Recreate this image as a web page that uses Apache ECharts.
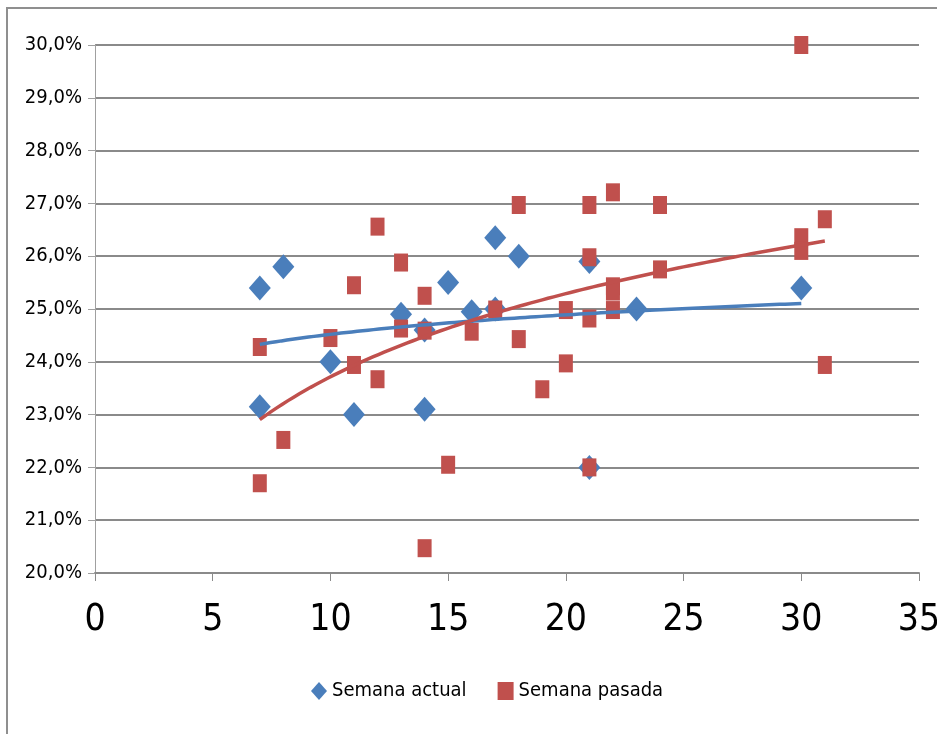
<!DOCTYPE html>
<html>
<head>
<meta charset="utf-8">
<script src="https://cdn.jsdelivr.net/npm/echarts@6/dist/echarts.min.js"></script>
<style>
  html, body { margin: 0; padding: 0; background: #fff; }
  #chart { width: 937px; height: 734px; }
</style>
</head>
<body>
<div id="chart"></div>
<script>
  // Semana actual (x = day, y = percent)
  const actualX = [7, 7, 8, 10, 11, 13, 14, 14, 15, 16, 17, 17, 18, 21, 21, 23, 30]
  const actualY = [25.4, 23.15, 25.8, 24.0, 23.0, 24.9, 24.6, 23.1, 25.5, 24.95, 26.35, 25.0, 26.0, 25.9, 22.0, 25.0, 25.4]

  // Semana pasada
  const pasadaX = [7, 7, 8, 10, 11, 11, 12, 12, 13, 13, 14, 14, 14, 15, 16, 17, 18, 18, 19, 20, 20,
    21, 21, 21, 21, 22, 22, 22, 22, 24, 24, 30, 30, 30, 31, 31]
  const pasadaY = [24.28, 21.7, 22.52, 24.45, 25.45, 23.94, 26.56, 23.67, 25.88, 24.63, 25.25, 24.59, 20.47, 22.05, 24.57, 24.99, 26.97, 24.43, 23.48, 24.98, 23.97,
    26.97, 25.98, 24.82, 22.0, 27.21, 25.43, 25.33, 24.98, 26.97, 25.75, 30.0, 26.36, 26.1, 26.7, 23.94]

  const xTicks = [0, 5, 10, 15, 20, 25, 30, 35]
  const yTicks = [20, 21, 22, 23, 24, 25, 26, 27, 28, 29, 30]
  const seriesNames = ['Semana actual', 'Semana pasada']

  const blue = '#4a7ebb'
  const red = '#c0504d'
  const gridGrey = '#8a8a8a'
  const font = '"Liberation Sans Narrow", "DejaVu Sans Condensed", sans-serif'

  function pairs(xs, ys) {
    return xs.map((x, i) => [x, ys[i]])
  }

  // logarithmic least-squares trendline, like the spreadsheet's
  function logTrend(xs, ys) {
    const lx = xs.map((x) => Math.log(x))
    const n = xs.length
    const mx = lx.reduce((a, b) => a + b, 0) / n
    const my = ys.reduce((a, b) => a + b, 0) / n
    let sxy = 0
    let sxx = 0
    lx.forEach((v, i) => {
      sxy += (v - mx) * (ys[i] - my)
      sxx += (v - mx) * (v - mx)
    })
    const a = sxy / sxx
    const b = my - a * mx
    const lo = Math.min(...xs)
    const hi = Math.max(...xs)
    const pts = []
    for (let k = 0; k <= 100; k++) {
      const x = lo + ((hi - lo) * k) / 100
      pts.push([x, a * Math.log(x) + b])
    }
    return pts
  }

  const chart = echarts.init(document.getElementById('chart'))
  chart.setOption({
    animation: false,
    graphic: [
      {
        type: 'rect',
        shape: { x: 7, y: 8, width: 1000, height: 800 },
        style: { fill: 'none', stroke: '#8f8f8f', lineWidth: 2 },
        silent: true,
      },
    ],
    grid: { left: 95, right: 18, top: 45, bottom: 161, outerBoundsMode: 'none', containLabel: false },
    legend: {
      data: seriesNames,
      left: 306,
      top: 676,
      itemWidth: 16,
      itemHeight: 18,
      itemGap: 31,
      textStyle: { fontFamily: font, fontSize: 20, color: '#000' },
    },
    xAxis: {
      type: 'value',
      min: xTicks[0],
      max: xTicks[xTicks.length - 1],
      interval: 5,
      axisLine: { lineStyle: { color: gridGrey, width: 2 } },
      axisTick: { show: true, inside: false, length: 8, lineStyle: { color: gridGrey, width: 1 } },
      axisLabel: { margin: 29, fontFamily: font, fontSize: 37, color: '#000', hideOverlap: false },
      splitLine: { show: false },
    },
    yAxis: {
      type: 'value',
      min: yTicks[0],
      max: yTicks[yTicks.length - 1],
      interval: 1,
      axisLine: { show: true, lineStyle: { color: '#a0a0a0', width: 1 } },
      axisTick: { show: true, length: 7, lineStyle: { color: '#a0a0a0', width: 1 } },
      axisLabel: {
        margin: 13,
        fontFamily: font,
        fontSize: 20,
        color: '#000',
        formatter: (v) => v.toFixed(1).replace('.', ',') + '%',
      },
      splitLine: { show: true, lineStyle: { color: gridGrey, width: 2 } },
    },
    series: [
      {
        name: seriesNames[0],
        type: 'scatter',
        symbol: 'diamond',
        symbolSize: [22, 25],
        itemStyle: { color: blue, opacity: 1 },
        data: pairs(actualX, actualY),
        z: 2,
      },
      {
        name: seriesNames[1],
        type: 'scatter',
        symbol: 'rect',
        symbolSize: [14, 18],
        itemStyle: { color: red, opacity: 1 },
        data: pairs(pasadaX, pasadaY),
        z: 3,
      },
      {
        name: 'trend actual',
        type: 'line',
        showSymbol: false,
        lineStyle: { color: blue, width: 3.5 },
        data: logTrend(actualX, actualY),
        z: 4,
      },
      {
        name: 'trend pasada',
        type: 'line',
        showSymbol: false,
        lineStyle: { color: red, width: 3.5 },
        data: logTrend(pasadaX, pasadaY),
        z: 5,
      },
    ],
  })
</script>
</body>
</html>
